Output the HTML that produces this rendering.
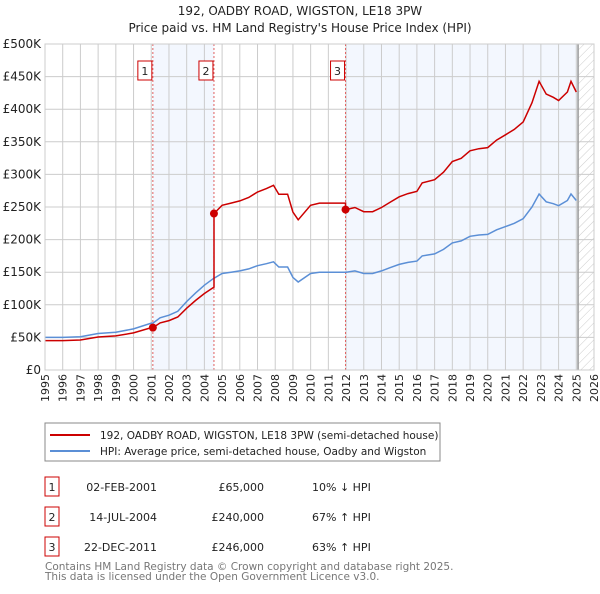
<!DOCTYPE html>
<html><head><meta charset="utf-8">
<style>
body{margin:0;background:#fff;font-family:"DejaVu Sans","Liberation Sans",sans-serif;}
svg text{font-family:"DejaVu Sans","Liberation Sans",sans-serif;}
</style></head>
<body>
<svg id="chart" width="600" height="590" viewBox="0 0 600 590">
<text x="300" y="15" text-anchor="middle" font-size="12" font-weight="normal" fill="#222">192, OADBY ROAD, WIGSTON, LE18 3PW</text>
<text x="300" y="32" text-anchor="middle" font-size="12" font-weight="normal" fill="#222">Price paid vs. HM Land Registry's House Price Index (HPI)</text>
<defs><pattern id="hatch" width="6" height="6" patternUnits="userSpaceOnUse" patternTransform="rotate(45)"><line x1="0" y1="0" x2="0" y2="6" stroke="#ccc" stroke-width="1"/></pattern></defs>
<g id="plot"></g>
<g id="legend">
<rect x="45" y="423" width="395" height="38" fill="#fff" stroke="#888"/>
<line x1="50" y1="435" x2="90" y2="435" stroke="#cc0000" stroke-width="2"/>
<text x="100" y="439" font-size="10.5" fill="#222">192, OADBY ROAD, WIGSTON, LE18 3PW (semi-detached house)</text>
<line x1="50" y1="451" x2="90" y2="451" stroke="#5b8fd6" stroke-width="2"/>
<text x="100" y="455" font-size="10.5" fill="#222">HPI: Average price, semi-detached house, Oadby and Wigston</text>
</g>
<g id="table" font-size="11" fill="#222"></g>
<text x="45" y="570" font-size="10.5" fill="#777">Contains HM Land Registry data © Crown copyright and database right 2025.</text>
<text x="45" y="580" font-size="10.5" fill="#777">This data is licensed under the Open Government Licence v3.0.</text>
</svg>
<script>
const hpiYears=[1995,1996,1997,1998,1999,2000,2001,2001.1,2001.5,2002,2002.5,2003,2003.5,2004,2004.5,2005,2005.5,2006,2006.5,2007,2007.5,2007.9,2008.2,2008.7,2009,2009.3,2010,2010.5,2011,2011.5,2012,2012.5,2013,2013.5,2014,2014.5,2015,2015.5,2016,2016.3,2017,2017.5,2018,2018.5,2019,2019.5,2020,2020.5,2021,2021.5,2022,2022.5,2022.9,2023.3,2023.7,2024,2024.5,2024.7,2025];
const hpiValues=[50,50,51,56,58,63,72,72,80,84,90,105,118,130,140,148,150,152,155,160,163,166,158,158,142,135,148,150,150,150,150,152,148,148,152,157,162,165,167,175,178,185,195,198,205,207,208,215,220,225,232,250,270,258,255,252,260,270,260];
const saleDates=[2001.09,2004.54,2011.97];
const salePrices=[65,240,246];
const saleLabels=["1","2","3"];
const saleDateText=["02-FEB-2001","14-JUL-2004","22-DEC-2011"];
const salePriceText=["£65,000","£240,000","£246,000"];
const saleDiffText=["10% ↓ HPI","67% ↑ HPI","63% ↑ HPI"];
const yTicks=[0,50,100,150,200,250,300,350,400,450,500];
const yTickLabels=["£0","£50K","£100K","£150K","£200K","£250K","£300K","£350K","£400K","£450K","£500K"];
const xTicks=[1995,1996,1997,1998,1999,2000,2001,2002,2003,2004,2005,2006,2007,2008,2009,2010,2011,2012,2013,2014,2015,2016,2017,2018,2019,2020,2021,2022,2023,2024,2025,2026];
const X0=45,X1=594,Y0=370,Y1=44;
const x=t=>X0+(t-1995)/31*(X1-X0);
const y=v=>Y0-v/500*(Y0-Y1);
const NS="http://www.w3.org/2000/svg";
const plot=document.getElementById('plot');
function mk(tag,attrs,parent){const e=document.createElementNS(NS,tag);for(const k in attrs)e.setAttribute(k,attrs[k]);(parent||plot).appendChild(e);return e;}
function hpiAt(t){for(let i=0;i<hpiYears.length-1;i++){if(t<=hpiYears[i+1]){const f=(t-hpiYears[i])/(hpiYears[i+1]-hpiYears[i]);return hpiValues[i]+f*(hpiValues[i+1]-hpiValues[i]);}}return hpiValues[hpiValues.length-1];}
let sh=mk('rect',{x:x(saleDates[0]),y:Y1,width:x(saleDates[1])-x(saleDates[0]),height:Y0-Y1,fill:'#eef3fd',opacity:0.7});


let sh2=mk('rect',{x:x(saleDates[2]),y:Y1,width:x(2025.1)-x(saleDates[2]),height:Y0-Y1,fill:'#eef3fd',opacity:0.7});


let hz=mk('rect',{x:x(2025.1),y:Y1,width:X1-x(2025.1),height:Y0-Y1,fill:'url(#hatch)'});


yTicks.forEach((v,i)=>{
 let l=mk('line',{x1:X0,x2:X1,y1:y(v),y2:y(v),stroke:'#ccc'});
 
 
 let t=mk('text',{x:X0-4,y:y(v)+4,'text-anchor':'end','font-size':12,fill:'#222'});
 
 
 t.textContent=yTickLabels[i];
});
xTicks.forEach(yr=>{
 let l=mk('line',{x1:x(yr),x2:x(yr),y1:Y1,y2:Y0,stroke:'#ccc'});
 
 
 let t=mk('text',{x:0,y:0,'text-anchor':'end','font-size':11,fill:'#222',transform:`translate(${x(yr)+4},374) rotate(-90)`});
 
 
 t.textContent=yr;
});
let end=mk('line',{x1:x(2025.1),x2:x(2025.1),y1:Y1,y2:Y0,stroke:'#999','stroke-width':1.5});


saleDates.forEach((d,i)=>{
 let l=mk('line',{x1:x(d),x2:x(d),y1:Y1,y2:Y0,stroke:'#e06060','stroke-dasharray':'2,2'});
 
 
 let b=mk('rect',{x:x(d)-15,y:61,width:14,height:19,fill:'#fff',stroke:'#cc0000'});
 
 
 let t=mk('text',{x:x(d)-8,y:75,'text-anchor':'middle','font-size':11,fill:'#222'});
 
 
 t.textContent=saleLabels[i];
});
let hp=hpiYears.map((t,i)=>`${x(t).toFixed(1)},${y(hpiValues[i]).toFixed(1)}`).join(' ');
let hl=mk('polyline',{points:hp,fill:'none',stroke:'#5b8fd6','stroke-width':1.5});


let pts=[];
hpiYears.forEach((t,i)=>{
 let k=0;for(let j=0;j<saleDates.length;j++){if(t>=saleDates[j])k=j;}
 if(i>0&&k>0&&hpiYears[i-1]<saleDates[k]){const d=saleDates[k];const pk=saleDates[k-1];pts.push([d,salePrices[k-1]*hpiAt(d)/hpiAt(pk)]);pts.push([d,salePrices[k]]);}
 pts.push([t,salePrices[k]*hpiValues[i]/hpiAt(saleDates[k])]);
});
let pl=mk('polyline',{points:pts.map(p=>`${x(p[0]).toFixed(1)},${y(p[1]).toFixed(1)}`).join(' '),fill:'none',stroke:'#cc0000','stroke-width':1.5});


saleDates.forEach((d,i)=>{
 let c=mk('circle',{cx:x(d),cy:y(salePrices[i]),r:4,fill:'#cc0000'});
 
 
});
let ax=mk('rect',{x:X0,y:Y1,width:X1-X0,height:Y0-Y1,fill:'none',stroke:'#ccc'});


const tb=document.getElementById('table');
saleDates.forEach((d,i)=>{
 const ry=488+i*30;
 let b=mk('rect',{x:45,y:ry-11,width:14,height:19,fill:'#fff',stroke:'#cc0000'},tb);
 
 
 let t0=mk('text',{x:52,y:ry+3,'text-anchor':'middle'},tb);
 
 
 t0.textContent=saleLabels[i];
 let t1=mk('text',{x:157,y:ry+3,'text-anchor':'end'},tb);
 
 
 t1.textContent=saleDateText[i];
 let t2=mk('text',{x:264,y:ry+3,'text-anchor':'end'},tb);
 
 
 t2.textContent=salePriceText[i];
 let t3=mk('text',{x:312,y:ry+3},tb);
 
 
 t3.textContent=saleDiffText[i];
});
</script>
</body></html>
